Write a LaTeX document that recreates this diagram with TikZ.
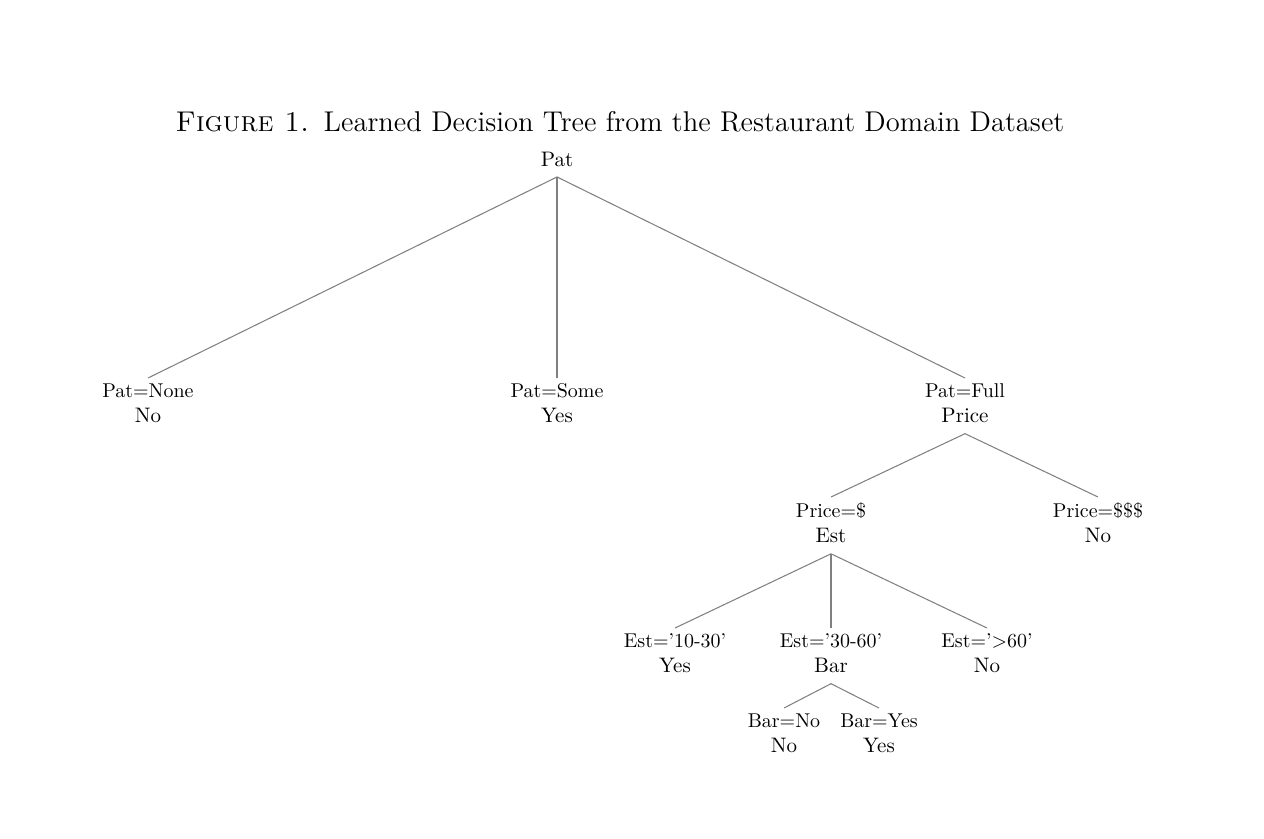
\documentclass[tikz,border=0pt]{standalone}
\usepackage{tikz}
\usetikzlibrary{calc}
\tikzset{tree node/.style={align=center,inner xsep=0pt,inner ysep=2.5pt,text depth=2.5pt,anchor=north},
  tree edge/.style={draw=gray,line width=0.5pt}}
\def\lbl#1#2{{\fontsize{9.5}{11.5}\selectfont #1}\\#2}

\begin{document}
\begin{tikzpicture}[x=0.476pt,y=-0.476pt]
\useasboundingbox (0,0) rectangle (1264,838);
% タイトル
\node (title) at (620,122) {\fontsize{13.6}{16}\selectfont\textsc{Figure 1.}\enskip Learned Decision Tree from the Restaurant Domain Dataset};
% ノードの描画
\node[tree node] (pat) at (557,146) {Pat};
\node[tree node] (none) at (148,378) {\lbl{Pat=None}{No}};
\node[tree node] (some) at (557,378) {\lbl{Pat=Some}{Yes}};
\node[tree node] (full) at (965,378) {\lbl{Pat=Full}{Price}};
\node[tree node] (cheap) at (831,497) {\lbl{Price=\$}{Est}};
\node[tree node] (pricey) at (1098,497) {\lbl{Price=\$\$\$}{No}};
\node[tree node] (short) at (675,628) {\lbl{Est='10-30'}{Yes}};
\node[tree node] (mid) at (831,628) {\lbl{Est='30-60'}{Bar}};
\node[tree node] (long) at (987,628) {\lbl{Est='>60'}{No}};
\node[tree node] (barno) at (784,708) {\lbl{Bar=No}{No}};
\node[tree node] (baryes) at (879,708) {\lbl{Bar=Yes}{Yes}};
% 枝の描画
\foreach \a/\b in {pat/none,pat/some,pat/full,full/cheap,full/pricey,cheap/short,cheap/mid,cheap/long,mid/barno,mid/baryes}
  \draw[tree edge] (\a.south) -- (\b.north);
\end{tikzpicture}
\end{document}
